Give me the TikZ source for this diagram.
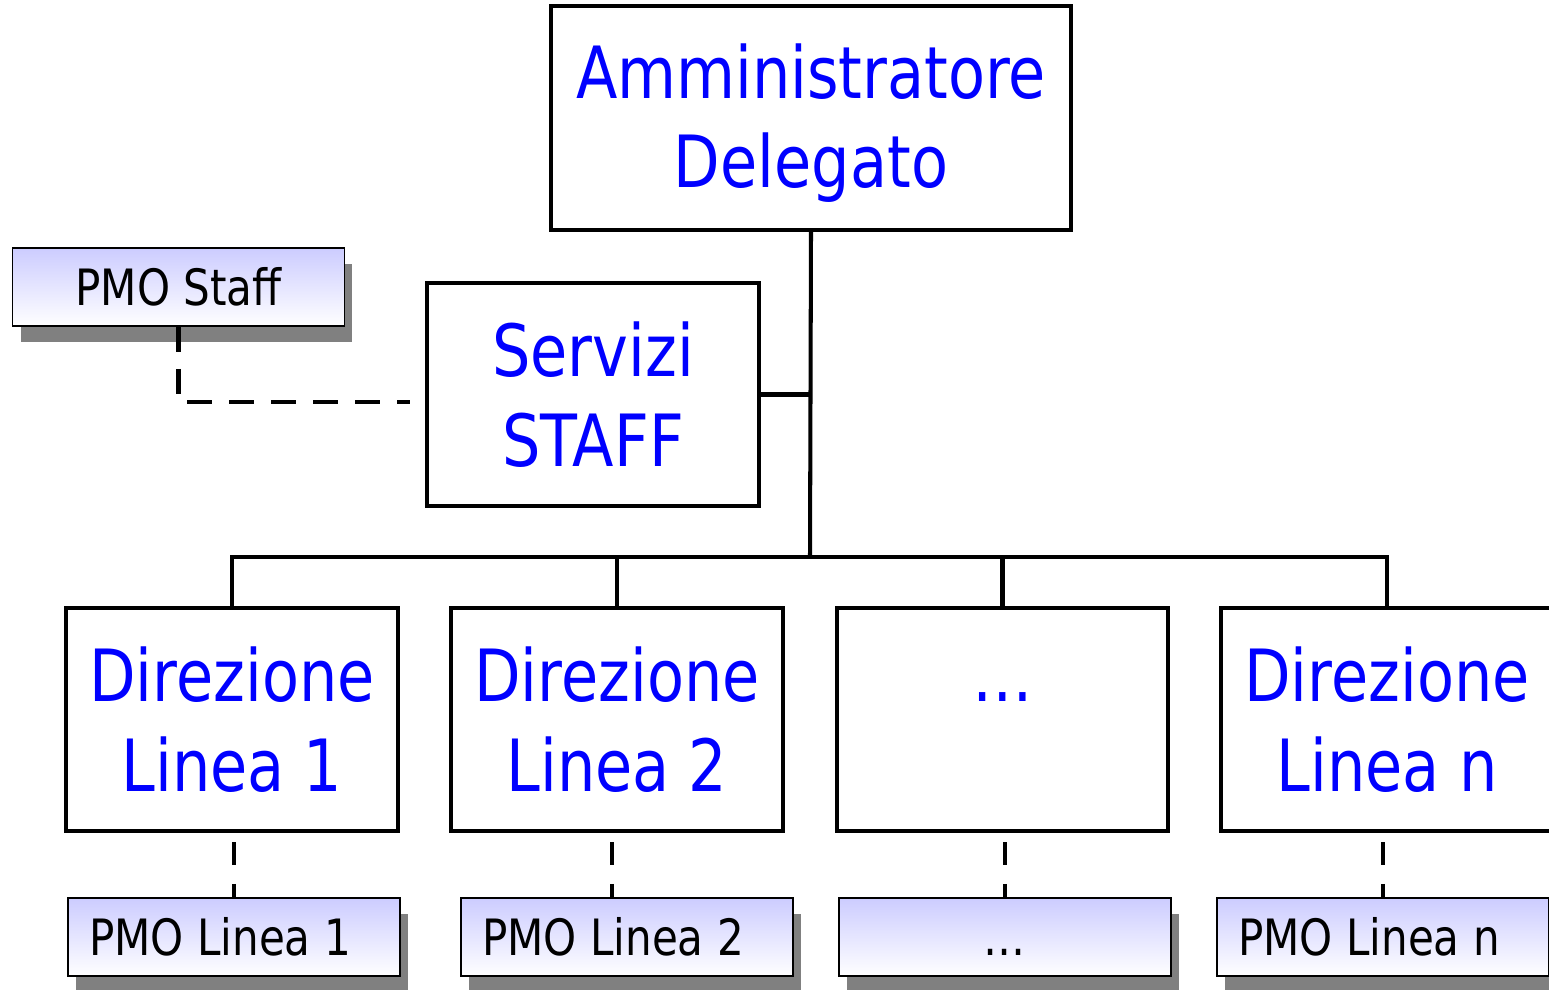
\documentclass[tikz,border=0pt]{standalone}
\usepackage{fontspec}
\setmainfont[FakeStretch=0.84]{DejaVu Sans}
\usetikzlibrary{shadows}
\tikzset{
  bigbox/.style={draw=black, line width=2.3pt, rectangle, minimum width=6.64cm, minimum height=4.46cm, inner sep=0pt, align=center, text=blue, font=\fontsize{41}{51}\selectfont},
  pmobox/.style={draw=black, line width=1.1pt, rectangle, minimum width=6.64cm, minimum height=1.56cm, inner sep=0pt, top color=blue!20, bottom color=white, font=\fontsize{28.5}{34}\selectfont, drop shadow={shadow xshift=0.16cm, shadow yshift=-0.32cm, fill=black!50, opacity=1}},
  link/.style={line width=2.3pt},
  pmolink/.style={line width=2.8pt, dash pattern=on 0.46cm off 0.38cm, dash phase=0.66cm}
}

\begin{document}
\begin{tikzpicture}[x=0.02cm, y=-0.02cm]
\useasboundingbox (0,0) rectangle (1549,990);

% vertici
\node [bigbox, minimum width=10.4cm, minimum height=4.48cm] (ad) at (811,118) {\rule{0pt}{37pt}Amministratore\\Delegato};
\node [bigbox] (srv) at (593,394.5) {Servizi\\STAFF};
\node [pmobox] (ps) at (178.5,287) {PMO Staff};

% direzioni di linea
\node [bigbox] (l1) at (232,719.5) {Direzione\\Linea 1};
\node [bigbox] (l2) at (617,719.5) {Direzione\\Linea 2};
\node [bigbox] (l3) at (1002.5,719.5) {\ldots\vphantom{Direzione}\\\phantom{Linea}};
\node [bigbox] (l4) at (1387,719.5) {Direzione\\Linea n};

% PMO di linea
\node [pmobox] (p1) at (234,937) {PMO Linea 1\hspace*{0.56cm}};
\node [pmobox] (p2) at (627,937) {PMO Linea 2\hspace*{0.56cm}};
\node [pmobox] (p3) at (1005,937) {\ldots\vphantom{PMO}};
\node [pmobox] (p4) at (1383,937) {PMO Linea n\hspace*{0.56cm}};

% collegamenti
\coordinate (bus) at (810,557);
\draw [link] (ad.south) -- (bus);
\draw [link] (srv.east) -- (srv.east -| ad.south);
\draw [link] (l1.north) |- (bus) -| (l4.north);
\draw [link] (l2.north) -- (l2.north |- bus);
\draw [link] (l3.north) -- (l3.north |- bus);

\coordinate (staffend) at (410,402);
\draw [line width=2.8pt, dash pattern=on 0.5cm off 0.34cm] (ps.south) |- (staffend);
\draw [pmolink] (l1.south -| p1.north) -- (p1.north);
\draw [pmolink] ([xshift=-0.1cm]l2.south) -- ([xshift=-0.1cm]l2.south |- p2.north);
\draw [pmolink] (l3.south -| p3.north) -- (p3.north);
\draw [pmolink] (l4.south -| p4.north) -- (p4.north);
\end{tikzpicture}
\end{document}
